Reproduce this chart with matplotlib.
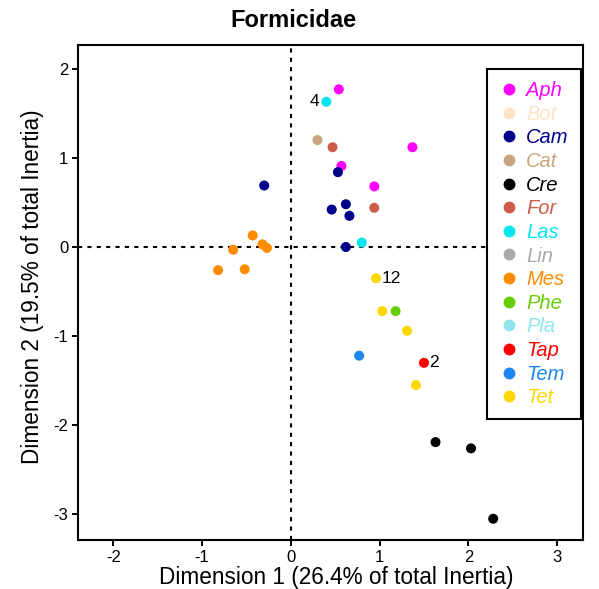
import matplotlib
matplotlib.use("Agg")
import matplotlib.pyplot as plt
from matplotlib.lines import Line2D

plt.rcParams["font.family"] = ["Liberation Sans", "DejaVu Sans"]
plt.rcParams["axes.unicode_minus"] = False

genera = ["Aph", "Bot", "Cam", "Cat", "Cre", "For", "Las", "Lin",
          "Mes", "Phe", "Pla", "Tap", "Tem", "Tet"]
colors = ["#FF00FF", "#FFE4C4", "#00008B", "#C8A57E", "#000000", "#CD5C4A",
          "#00E5EE", "#A9A9A9", "#FF8C00", "#66CD00", "#8EE5EE", "#FF0000",
          "#1C86EE", "#FFD700"]

# species coordinates (dim1, dim2) and genus
dim1 = [0.54, 1.37, 0.57, 0.94,
        0.40, 0.80,
        0.30,
        0.47, 0.94,
        0.53, -0.30, 0.62, 0.46, 0.66, 0.62,
        -0.43, -0.65, -0.32, -0.27, -0.82, -0.52,
        0.96, 1.03, 1.31, 1.41,
        1.18, 0.77, 1.50,
        1.63, 2.03, 2.28]
dim2 = [1.77, 1.12, 0.91, 0.68,
        1.63, 0.05,
        1.20,
        1.12, 0.44,
        0.84, 0.69, 0.48, 0.42, 0.35, 0.00,
        0.13, -0.03, 0.03, -0.01, -0.26, -0.25,
        -0.35, -0.72, -0.94, -1.55,
        -0.72, -1.22, -1.30,
        -2.19, -2.26, -3.05]
genus = ["Aph"] * 4 + ["Las"] * 2 + ["Cat"] + ["For"] * 2 + ["Cam"] * 6 + \
        ["Mes"] * 6 + ["Tet"] * 4 + ["Phe", "Tem", "Tap"] + ["Cre"] * 3
labels = {4: "4", 21: "12", 27: "2"}
label_side = {4: "left", 21: "right", 27: "right"}

cmap = dict(zip(genera, colors))

fig = plt.figure(figsize=(5.99, 5.89), dpi=100)
ax = fig.add_axes([0.130, 0.083, 0.843, 0.841])

ax.axhline(0, color="black", linestyle=(0, (2, 2.5)), linewidth=1.5, zorder=1)
ax.axvline(0, color="black", linestyle=(0, (2, 2.5)), linewidth=1.5, zorder=1)

ax.scatter(dim1, dim2, c=[cmap[g] for g in genus], s=52, linewidths=0, zorder=3)

for i, txt in labels.items():
    if label_side[i] == "left":
        ax.annotate(txt, (dim1[i], dim2[i]), xytext=(-5, 0), textcoords="offset points",
                    ha="right", va="center", fontsize=12.5)
    else:
        ax.annotate(txt, (dim1[i], dim2[i]), xytext=(4, 0), textcoords="offset points",
                    ha="left", va="center", fontsize=12.5)

ax.set_xlim(-2.4, 3.29)
ax.set_ylim(-3.29, 2.27)
ax.set_xticks([-2, -1, 0, 1, 2, 3])
ax.set_yticks([-3, -2, -1, 0, 1, 2])
ax.tick_params(labelsize=12, length=4, width=1.4, direction="out", colors="black", pad=3)
for s in ax.spines.values():
    s.set_linewidth(1.5)
ax.set_xlabel("Dimension 1 (26.4% of total Inertia)", fontsize=16.3)
ax.set_ylabel("Dimension 2 (19.5% of total Inertia)", fontsize=16.3)
ax.xaxis.set_label_coords(0.511, -0.053)
ax.yaxis.set_label_coords(-0.068, 0.511)
fig.text(0.49, 0.965, "Formicidae", ha="center", va="center", fontsize=17, fontweight="bold")

handles = [Line2D([], [], marker="o", linestyle="none", color=c, markersize=7.5) for c in colors]
leg = ax.legend(handles, genera, loc="upper left", bbox_to_anchor=(0.81, 0.951),
                frameon=True, fancybox=False, edgecolor="black", framealpha=1,
                fontsize=14.5, handlelength=1.0, handletextpad=0.35, labelspacing=0.23,
                borderpad=0.6, borderaxespad=0)
leg.get_frame().set_linewidth(1.5)
for t, c in zip(leg.get_texts(), colors):
    t.set_color(c)
    t.set_fontstyle("italic")

fig.savefig("out.png", dpi=100)
